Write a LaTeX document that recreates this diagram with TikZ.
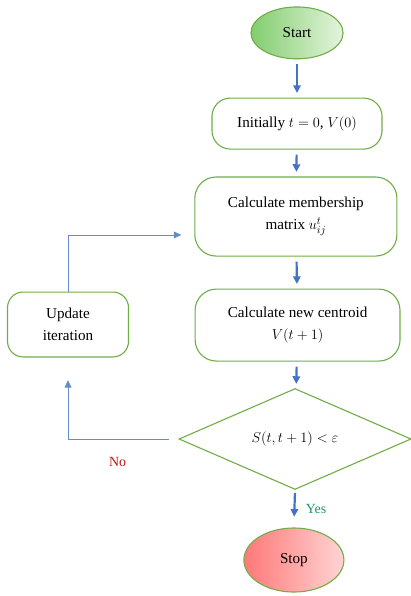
\documentclass[tikz,border=0pt]{standalone}
\usepackage{fontspec}
\setmainfont{Liberation Serif}
\usepackage{tikz}
\usetikzlibrary{positioning,arrows.meta,shapes.geometric,calc}
\definecolor{boxborder}{RGB}{112,173,71}
\definecolor{flowblue}{RGB}{68,114,196}
\definecolor{loopblue}{RGB}{100,140,205}
\definecolor{startleft}{RGB}{130,205,110}
\definecolor{startright}{RGB}{228,244,222}
\definecolor{stopleft}{RGB}{255,120,120}
\definecolor{stopright}{RGB}{255,212,212}
\definecolor{yescol}{RGB}{30,150,100}
\definecolor{nocol}{RGB}{190,20,20}

\begin{document}
\begin{tikzpicture}[
    font=\fontsize{15.2}{22}\selectfont,
    termnode/.style={ellipse, draw=boxborder, line width=1.1pt, inner sep=0pt},
    procnode/.style={rectangle, rounded corners=0.65cm, draw=boxborder, line width=1.1pt, fill=white, align=center, inner sep=2pt},
    decnode/.style={diamond, draw=boxborder, line width=1.1pt, inner sep=0pt},
    flowarrow/.style={-{Triangle[length=2.7mm,width=2.6mm]}, line width=2.2pt, draw=flowblue, shorten <=0.18cm, shorten >=0.16cm},
    looparrow/.style={-{Triangle[length=2.6mm,width=2.4mm]}, line width=0.7pt, draw=loopblue},
    branchlabel/.style={font=\fontsize{14}{16}\selectfont}
    ]
    \useasboundingbox (0,0) rectangle (14.50,-21.03);

    % main column
    \node[termnode, left color=startleft, right color=startright, minimum width=3.25cm, minimum height=1.83cm] (start) at (10.48,-1.16) {Start};
    \node[procnode, minimum width=6.00cm, minimum height=1.80cm] (init) at (10.48,-4.36) {Initially $t=0$, $V(0)$};
    \node[procnode, minimum width=7.13cm, minimum height=2.79cm, rounded corners=0.75cm] (member) at (10.44,-7.64) {Calculate membership\\ matrix $u_{ij}^{t}$};
    \node[procnode, minimum width=7.23cm, minimum height=2.54cm, rounded corners=0.75cm] (centroid) at (10.50,-11.47) {Calculate new centroid\\ $V(t+1)$};
    \node[decnode, minimum width=8.19cm, minimum height=3.46cm] (check) at (10.41,-15.49) {$S(t,t+1)<\varepsilon$};
    \node[termnode, left color=stopleft, right color=stopright, minimum width=3.53cm, minimum height=2.26cm] (stop) at (10.37,-19.76) {Stop};

    % loop back
    \node[procnode, minimum width=4.27cm, minimum height=2.29cm, rounded corners=0.55cm] (update) at (2.40,-11.45) {Update\\ iteration};

    \draw[flowarrow] (start) -- (init);
    \draw[flowarrow] (init) -- (member);
    \draw[flowarrow] (member) -- (centroid);
    \draw[flowarrow] (centroid) -- (check);
    \draw[flowarrow, shorten <=0.1cm, shorten >=0.38cm] (check.south) -- node[branchlabel, text=yescol, right=0.25cm] {Yes} (stop.north);

    \draw[looparrow, shorten <=0.35cm, shorten >=0.8cm] (check.west) -| (update.south);
    \draw[looparrow] (update.north) |- ([xshift=-0.46cm, yshift=-0.65cm]member.west);
    \node[branchlabel, text=nocol] (no) at (4.15,-16.30) {No};
\end{tikzpicture}
\end{document}
